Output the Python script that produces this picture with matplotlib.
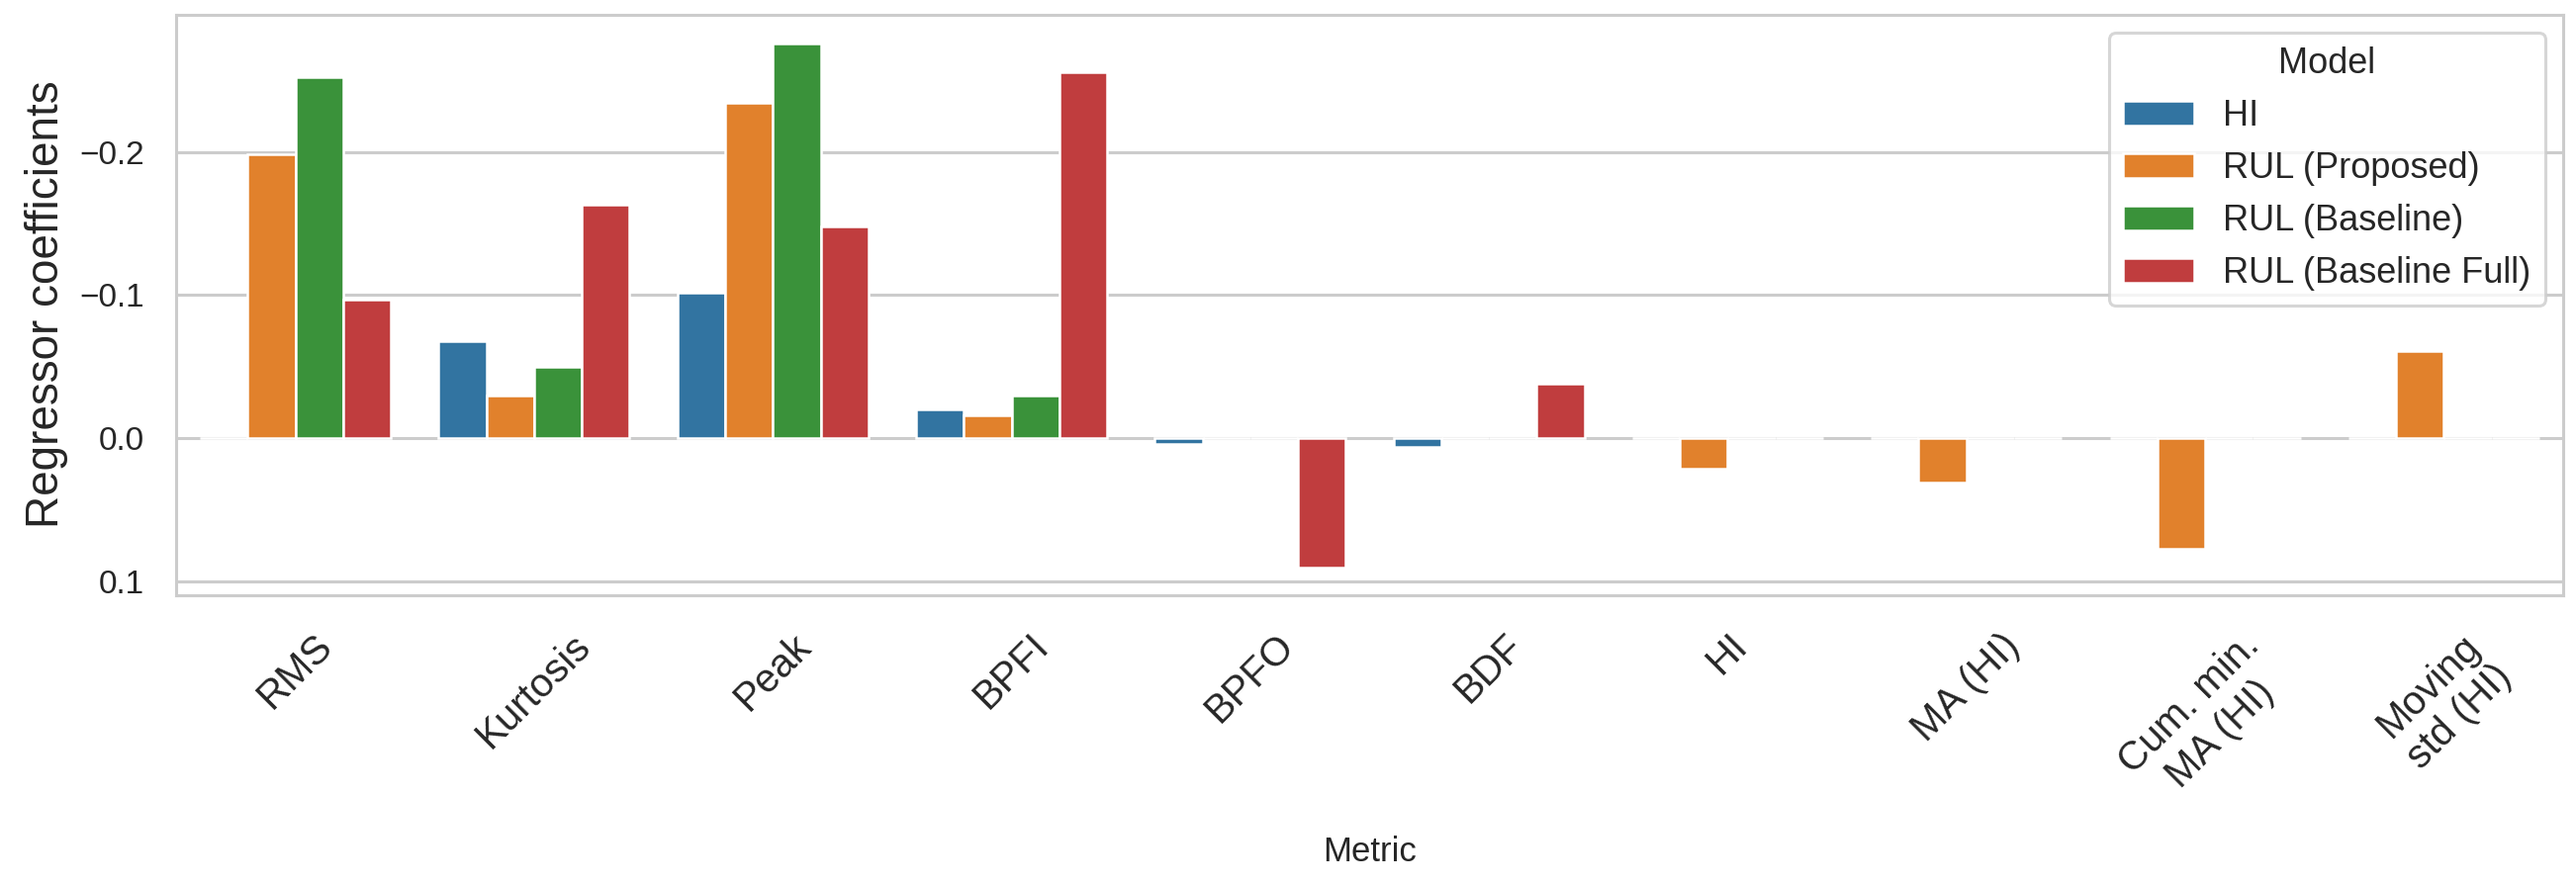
import matplotlib
matplotlib.use("Agg")
import matplotlib.pyplot as plt
import seaborn as sns
import pandas as pd

metrics = ["RMS", "Kurtosis", "Peak", "BPFI", "BPFO", "BDF", "HI", "MA (HI)",
           "Cum. min.\nMA (HI)", "Moving\nstd (HI)"]
models = ["HI", "RUL (Proposed)", "RUL (Baseline)", "RUL (Baseline Full)"]
hi_vals = [0.0, -0.068, -0.102, -0.020, 0.004, 0.006, 0.0, 0.0, 0.0, 0.0]
rul_proposed = [-0.198, -0.030, -0.234, -0.016, 0.0, 0.0, 0.021, 0.031, 0.0775, -0.061]
rul_baseline = [-0.252, -0.050, -0.276, -0.030, 0.0, 0.0, 0.0, 0.0, 0.0, 0.0]
rul_baseline_full = [-0.097, -0.163, -0.148, -0.256, 0.090, -0.038, 0.0, 0.0, 0.0, 0.0]
yticks = [-0.2, -0.1, 0.0, 0.1]

series = [hi_vals, rul_proposed, rul_baseline, rul_baseline_full]
rows = []
for m, vals in zip(models, series):
    for met, v in zip(metrics, vals):
        rows.append({"Metric": met, "Model": m, "Coef": v})
df = pd.DataFrame(rows)

sns.set_theme(style="whitegrid")
plt.rcParams['font.family'] = ['Liberation Sans', 'DejaVu Sans']
plt.rcParams['grid.linewidth'] = 2.2
plt.rcParams['axes.linewidth'] = 2.2

fig = plt.figure(figsize=(26.04, 8.94), dpi=100)
ax = fig.add_axes([178/2604, 1-601.6/894, (2591-178)/2604, (601.6-14.6)/894])

sns.barplot(data=df, x="Metric", y="Coef", hue="Model", hue_order=models,
            order=metrics, errorbar=None, ax=ax, palette="tab10",
            linewidth=1.8, edgecolor="white")

ax.set_ylim(0.1094, -0.296)
ax.set_yticks(yticks)
ax.tick_params(axis='y', labelsize=24, colors='.15', pad=17)
ax.tick_params(axis='x', labelsize=29, colors='.15', pad=17)
plt.setp(ax.get_xticklabels(), rotation=45, ha='center', multialignment='center')
ax.set_ylabel("Regressor coefficients", fontsize=33, color='.15')
ax.yaxis.set_label_coords(-0.045, 0.5)
ax.set_xlabel("Metric", fontsize=25, color='.15')
ax.xaxis.set_label_coords(0.5, -0.415)
for s in ax.spines.values():
    s.set_color('.8')
    s.set_linewidth(2.2)

leg = ax.legend(title="Model", loc="upper right", fontsize=26, title_fontsize=26)
leg.get_frame().set_linewidth(2.2)

fig.savefig("out.png", dpi=100)
